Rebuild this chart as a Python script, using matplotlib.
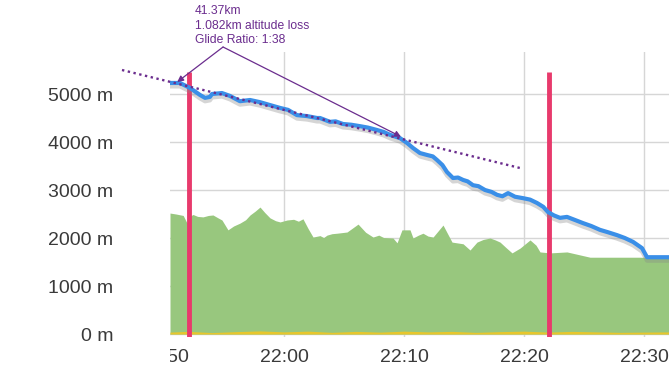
import matplotlib
matplotlib.use("Agg")
import matplotlib.pyplot as plt
import matplotlib.patches as patches
import matplotlib.patheffects as pe

# minutes after 21:50
flight_min = [0.5, 1.33, 2.17, 3.0, 3.42, 3.83, 4.0, 4.83, 5.5, 6.33, 7.17, 8.0, 8.83,
              9.67, 10.33, 11.08, 11.92, 12.75, 13.0, 13.83, 14.3, 14.92, 15.6, 16.33,
              17.0, 17.75, 18.3, 18.83, 19.67, 20.25, 20.75, 21.33, 21.92, 22.4, 22.75,
              23.2, 23.58, 24.08, 24.5, 24.92, 25.3, 25.75, 26.2, 26.75, 27.3, 27.75,
              28.2, 28.67, 29.25, 29.92, 30.5, 31.08, 31.6, 32.0, 32.5, 33.0, 33.58,
              34.2, 34.92, 35.6, 36.33, 37.0, 37.75, 38.4, 39.08, 39.83, 40.25, 42.58]
flight_alt = [5230, 5230, 5125, 4980, 4920, 4940, 5000, 5020, 4960, 4850, 4875, 4830, 4770,
              4710, 4670, 4560, 4540, 4500, 4500, 4420, 4430, 4375, 4360, 4330,
              4300, 4250, 4210, 4150, 4080, 3980, 3875, 3770, 3730, 3700, 3625,
              3520, 3375, 3250, 3260, 3210, 3180, 3100, 3080, 3000, 2960, 2900,
              2870, 2935, 2860, 2830, 2800, 2730, 2650, 2540, 2470, 2420, 2440,
              2380, 2310, 2250, 2170, 2120, 2060, 2000, 1920, 1790, 1600, 1600]

terrain_min = [0.5, 1.0, 1.6, 1.92, 2.2, 2.42, 2.8, 3.25, 3.7, 4.08, 4.5, 4.83, 5.33, 5.8,
               6.33, 6.8, 7.17, 7.6, 8.0, 8.4, 8.83, 9.3, 9.67, 10.25, 10.8, 11.2, 11.58,
               12.0, 12.42, 13.0, 13.3, 13.58, 14.0, 14.42, 15.25, 16.17, 16.8, 17.42,
               17.9, 18.3, 19.08, 19.42, 19.83, 20.5, 20.75, 21.2, 21.58, 22.0, 22.42,
               23.25, 24.0, 24.92, 25.5, 26.08, 26.6, 27.17, 27.6, 28.0, 28.5, 29.0,
               29.67, 30.5, 31.0, 31.33, 32.17, 33.58, 35.5, 39.67, 42.58]
terrain_alt = [2520, 2500, 2470, 2310, 2460, 2490, 2450, 2440, 2470, 2480, 2420, 2375, 2170,
               2250, 2310, 2380, 2480, 2560, 2645, 2530, 2420, 2360, 2335, 2375, 2390,
               2350, 2400, 2200, 2020, 2050, 2010, 2060, 2090, 2100, 2125, 2290, 2120,
               2020, 2060, 2010, 2000, 1900, 2170, 2170, 2000, 2060, 2100, 2040, 2020,
               2270, 1915, 1880, 1750, 1915, 1970, 2000, 1960, 1915, 1800, 1690, 1790,
               1960, 1850, 1710, 1690, 1710, 1600, 1600, 1580]

ground_min = [0.5, 2.0, 4.0, 6.0, 8.0, 10.0, 12.0, 14.0, 16.0, 18.0, 20.0, 22.0, 24.0,
              26.0, 28.0, 30.0, 32.0, 34.0, 36.0, 38.0, 40.0, 42.58]
ground_alt = [40, 55, 30, 50, 65, 45, 60, 35, 55, 40, 60, 45, 55, 35, 50, 60, 40, 55, 45, 35, 40, 45]

marker_min = [2.08, 32.08]
glide_min = [-3.5, 29.67]
glide_alt = [5500, 3458]
glide_label = "41.37km\n1.082km altitude loss\nGlide Ratio: 1:38"

x_ticks = [10, 20, 30, 40]
x_labels = ["22:00", "22:10", "22:20", "22:30"]
y_ticks = [0, 1000, 2000, 3000, 4000, 5000]

BLUE = "#3a8fe8"
GREEN = "#98c77e"
RED = "#e83a6c"
PURPLE = "#6b2d8e"
TEXT = "#3a3a3a"

plt.rcParams['font.family'] = ['Liberation Sans', 'DejaVu Sans']

W, H = 669, 374
fig = plt.figure(figsize=(W / 100, H / 100), dpi=100)
ax = fig.add_axes([170 / W, 37 / H, 505 / W, 285 / H])
ax.set_xlim(0.5, 42.58)
ax.set_ylim(-62, 5875)

for s in ax.spines.values():
    s.set_visible(False)
ax.set_axisbelow(True)
ax.grid(True, color="#d6d6d6", linewidth=1.0)

ax.fill_between(terrain_min, 0, terrain_alt, color=GREEN, linewidth=0, zorder=2)
ax.fill_between(ground_min, 0, ground_alt, color="#e8c62c", linewidth=0, zorder=3)

ax.vlines(marker_min, -62, 5460, color=RED, linewidth=3.5, zorder=4)

ax.plot(flight_min, flight_alt, color=BLUE, linewidth=3, zorder=5,
        solid_capstyle='round',
        path_effects=[pe.SimpleLineShadow(offset=(0, -2.5), shadow_color='#888888', alpha=0.35),
                      pe.Normal()])

ax.plot(glide_min, glide_alt, linestyle=(0, (1, 1.5)), color=PURPLE, linewidth=1.7,
        zorder=6, clip_on=False)

origin = (4.92, 5979)
for tip in [(1.1, 5250), (19.75, 4110)]:
    ax.annotate("", xy=tip, xytext=origin, annotation_clip=False,
                arrowprops=dict(arrowstyle='-|>', color=PURPLE, lw=0.9,
                                mutation_scale=9, shrinkA=0, shrinkB=0), zorder=7)

fig.text(195 / W, 1 - 5 / H, glide_label, color=PURPLE, fontsize=8.7,
         va='top', ha='left', linespacing=1.3)

ax.set_yticks(y_ticks)
ax.set_yticklabels([f"{v} m" for v in y_ticks])
ax.set_xticks(x_ticks)
ax.set_xticklabels(x_labels)
ax.tick_params(axis='y', length=0, pad=41, labelsize=14, labelcolor=TEXT)
ax.tick_params(axis='x', length=0, pad=9, labelsize=14, labelcolor=TEXT)

# first time label is cut by the plot's left edge
lbl = ax.annotate("21:50", xy=(0, 0), xycoords=('data', 'axes fraction'),
                  xytext=(0, -9), textcoords='offset points', ha='center', va='top',
                  fontsize=14, color=TEXT, annotation_clip=False)
lbl.set_clip_on(True)
lbl.set_clip_path(patches.Rectangle((170 / W, 0), 1, 1, transform=fig.transFigure))

fig.savefig("out.png", dpi=100)
